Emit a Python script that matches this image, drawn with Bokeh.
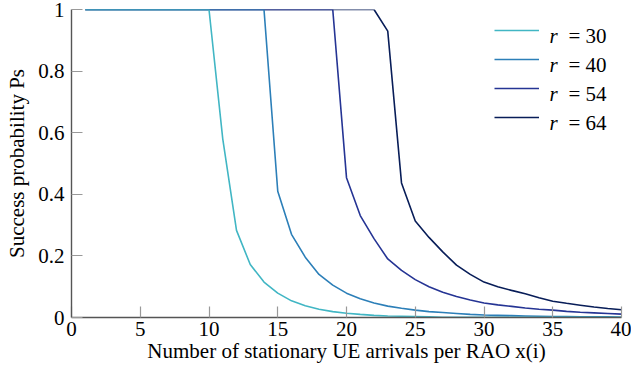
from bokeh.plotting import figure
from bokeh.models import Range1d, FixedTicker, Legend, LegendItem, Label
from bokeh.embed import file_html
from bokeh.resources import INLINE

# ---- data ----
x_arrivals = list(range(1, 41))
r_labels = ["30", "40", "54", "64"]
ps_r30 = [1, 1, 1, 1, 1, 1, 1, 1, 1, 1,
          0.58, 0.283, 0.172, 0.115, 0.079, 0.054, 0.038, 0.027, 0.019, 0.014,
          0.010, 0.007, 0.005, 0.004, 0.003, 0.002, 0.001, 0.001, 0.001, 0.001,
          0.001, 0.001, 0.001, 0.001, 0.001, 0.001, 0.001, 0.001, 0.001, 0.001]
ps_r40 = [1, 1, 1, 1, 1, 1, 1, 1, 1, 1, 1, 1, 1, 1,
          0.41, 0.27, 0.196, 0.14, 0.105, 0.079, 0.061, 0.047, 0.037, 0.030,
          0.024, 0.019, 0.016, 0.013, 0.010, 0.008, 0.007, 0.006, 0.005, 0.004,
          0.003, 0.003, 0.002, 0.002, 0.002, 0.001]
ps_r54 = [1, 1, 1, 1, 1, 1, 1, 1, 1, 1, 1, 1, 1, 1, 1, 1, 1, 1, 1,
          0.454, 0.331, 0.256, 0.19, 0.153, 0.123, 0.10, 0.082, 0.068, 0.057,
          0.047, 0.041, 0.036, 0.031, 0.027, 0.024, 0.020, 0.017, 0.015, 0.013,
          0.011]
ps_r64 = [1, 1, 1, 1, 1, 1, 1, 1, 1, 1, 1, 1, 1, 1, 1, 1, 1, 1, 1, 1, 1, 1,
          0.93, 0.437, 0.313, 0.26, 0.213, 0.17, 0.14, 0.115, 0.10, 0.088,
          0.077, 0.064, 0.053, 0.046, 0.040, 0.034, 0.029, 0.025]
series = [ps_r30, ps_r40, ps_r54, ps_r64]
colors = ["#41b6c4", "#2c7fb8", "#253494", "#081d58"]
x_ticks = [0, 5, 10, 15, 20, 25, 30, 35, 40]
y_ticks = [0, 0.2, 0.4, 0.6, 0.8, 1]
y_tick_labels = ["0", "0.2", "0.4", "0.6", "0.8", "1"]
x_title = "Number of stationary UE arrivals per RAO x(i)"
y_title = "Success probability Ps"

FONT = "Liberation Serif"

p = figure(width=631, height=373, output_backend="svg", toolbar_location=None,
           x_range=Range1d(0, 40), y_range=Range1d(0, 1),
           min_border_left=71, min_border_right=10, min_border_top=9,
           min_border_bottom=56)
p.outline_line_color = None
p.grid.visible = False
p.background_fill_color = "white"

renderers = {}
for idx in [3, 2, 1, 0]:
    renderers[idx] = p.line(x_arrivals, series[idx], line_color=colors[idx], line_width=1.6)

p.xaxis.ticker = FixedTicker(ticks=x_ticks, minor_ticks=[])
p.yaxis.ticker = FixedTicker(ticks=y_ticks, minor_ticks=[])
p.yaxis.major_label_overrides = {t: s for t, s in zip(y_ticks, y_tick_labels)}
for ax in [p.xaxis[0], p.yaxis[0]]:
    ax.major_tick_in = 11
    ax.major_tick_out = 0
    ax.minor_tick_line_color = None
    ax.major_tick_line_color = "#999999"
    ax.major_tick_line_width = 1.2
    ax.axis_line_color = "#555555"
    ax.axis_line_width = 1.4
    ax.major_label_text_font = FONT
    ax.major_label_text_font_size = "21px"
    ax.major_label_text_color = "black"
    ax.axis_label_text_font = FONT
    ax.axis_label_text_font_size = "21px"
    ax.axis_label_text_font_style = "normal"
    ax.axis_label_text_color = "black"
p.xaxis.major_label_standoff = 4
p.yaxis.major_label_standoff = 7
p.xaxis.axis_label = x_title
p.yaxis.axis_label = y_title
p.xaxis.axis_label_standoff = 0
p.yaxis.axis_label_standoff = 6

# legend swatches
items = [LegendItem(label=" ", renderers=[renderers[i]]) for i in range(4)]
legend = Legend(items=items, location=(423, 190), orientation="vertical",
                glyph_width=45, glyph_height=20, label_height=20, spacing=9,
                padding=0, margin=0, border_line_color=None,
                background_fill_alpha=0, label_standoff=0,
                label_text_font_size="1px", label_width=1)
p.add_layout(legend)

# legend texts (italic r, roman "= value")
lab_kw = dict(x_units="screen", y_units="screen", text_font=FONT,
              text_color="black", text_baseline="alphabetic", text_align="left",
              text_font_size="21px")
pitch = 29
for i, rl in enumerate(r_labels):
    by = 282 - i * pitch
    p.add_layout(Label(x=478, y=by, text="r", text_font_style="italic", **lab_kw))
    p.add_layout(Label(x=497, y=by, text="= " + rl, **lab_kw))

open("out.html", "w").write(file_html(p, INLINE))
